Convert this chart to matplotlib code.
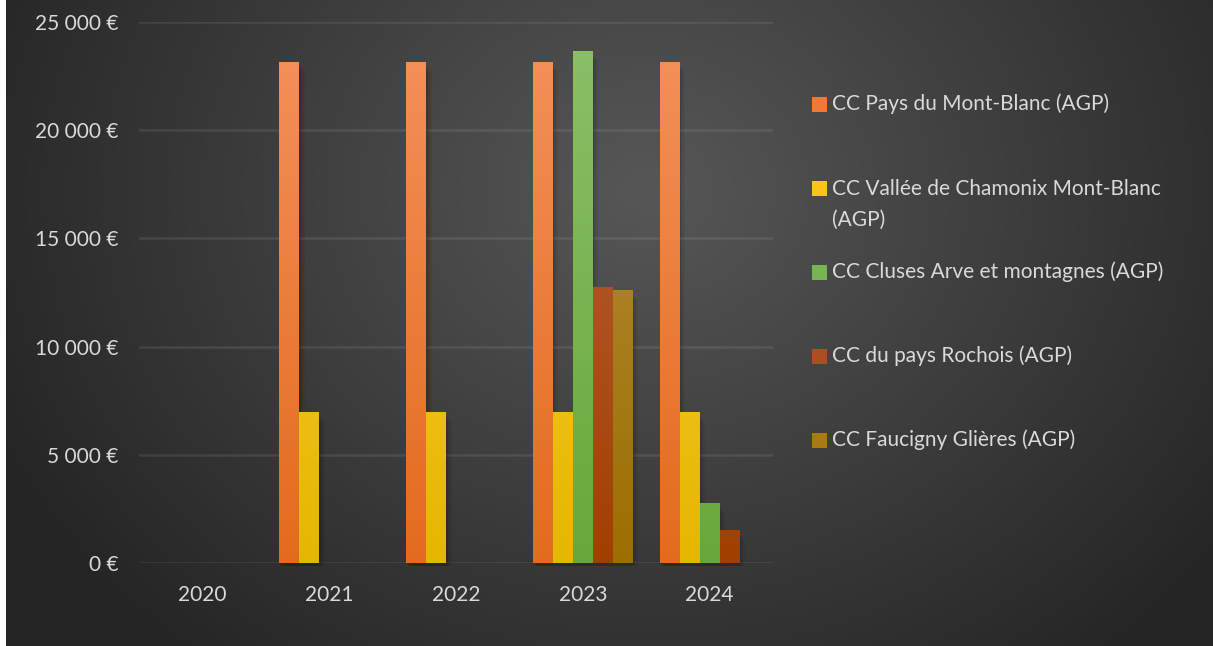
import numpy as np
import matplotlib
matplotlib.use("Agg")
import matplotlib.pyplot as plt
from matplotlib.patches import Rectangle
from matplotlib.colors import LinearSegmentedColormap

years = ["2020", "2021", "2022", "2023", "2024"]
series = [
    "CC Pays du Mont-Blanc (AGP)",
    "CC Vallée de Chamonix Mont-Blanc\n(AGP)",
    "CC Cluses Arve et montagnes (AGP)",
    "CC du pays Rochois (AGP)",
    "CC Faucigny Glières (AGP)",
]
pays_mont_blanc = [0, 23150, 23150, 23150, 23150]
chamonix = [0, 6980, 6980, 6980, 6980]
cluses = [0, 0, 0, 23650, 2770]
rochois = [0, 0, 0, 12750, 1520]
faucigny = [0, 0, 0, 12620, 0]
values = [pays_mont_blanc, chamonix, cluses, rochois, faucigny]
yticks = [0, 5000, 10000, 15000, 20000, 25000]
ytick_labels = ["0 €", "5 000 €", "10 000 €", "15 000 €", "20 000 €", "25 000 €"]

# (top colour, bottom colour) per series
grads = [
    ("#f4925c", "#e36b1d"),
    ("#ffd23f", "#e4b700"),
    ("#8cc06a", "#68a83a"),
    ("#bd6444", "#a04000"),
    ("#bc9047", "#9b6f00"),
]
legend_cols = ["#ee7a35", "#fcc419", "#77b550", "#ad4e20", "#a87b12"]

W, H = 1213, 646
FS = 15
fig = plt.figure(figsize=(W / 100, H / 100), dpi=100)
fig.patch.set_facecolor("white")

# background radial gradient
bg = fig.add_axes([6 / W, 0, (W - 6) / W, 1])
bg.set_axis_off()
yy, xx = np.mgrid[0:H, 0:W - 6]
cx, cy = 640, 190
d = np.sqrt(((xx - cx) / 1.0) ** 2 + ((yy - cy) / 0.85) ** 2)
t = np.clip(d / 720, 0, 1)
c0 = np.array([0x57, 0x57, 0x57]) / 255
c1 = np.array([0x25, 0x25, 0x25]) / 255
img = c0[None, None, :] * (1 - t[..., None]) + c1[None, None, :] * t[..., None]
bg.imshow(img, aspect="auto", extent=[0, 1, 0, 1], origin="upper")
bg.set_xlim(0, 1)
bg.set_ylim(0, 1)

left, right, top, bottom = 139, 773, 22, 563
ax = fig.add_axes([left / W, (H - bottom) / H, (right - left) / W, (bottom - top) / H])
ax.set_facecolor("none")
ax.set_xlim(-0.5, len(years) - 0.5)
ax.set_ylim(0, 25000)
for s in ax.spines.values():
    s.set_visible(False)
ax.set_yticks(yticks)
ax.set_yticklabels(ytick_labels)
ax.set_xticks(range(len(years)))
ax.set_xticklabels(years)
ax.tick_params(length=0, colors="#d9d9d9", labelsize=FS)
ax.tick_params(axis="y", pad=15)
ax.tick_params(axis="x", pad=16)
for lab in ax.get_xticklabels() + ax.get_yticklabels():
    lab.set_fontfamily("Lato")
ax.grid(axis="y", color="white", alpha=0.09, linewidth=1.8)
ax.set_axisbelow(True)

bw = 20 / 126.8
n = len(series)
x = np.arange(len(years))
for i, (vals, (ct, cb)) in enumerate(zip(values, grads)):
    xs = x - n * bw / 2 + i * bw + bw / 2
    bars = ax.bar(xs, vals, width=bw, color="none", linewidth=0, zorder=3)
    cmap = LinearSegmentedColormap.from_list(f"g{i}", [cb, ct])
    grad = np.linspace(0, 1, 256).reshape(-1, 1)
    for b in bars:
        h = b.get_height()
        if h <= 0:
            continue
        x0 = b.get_x()
        # soft shadow
        for k, a in enumerate([0.10, 0.07, 0.05]):
            off = bw * (0.08 + 0.1 * k)
            sh = Rectangle((x0 + off, -150), bw, h - 100 - 80 * k, facecolor="black",
                           alpha=a, linewidth=0, zorder=2, clip_on=False)
            ax.add_patch(sh)
        im = ax.imshow(grad, cmap=cmap, aspect="auto", origin="lower",
                       extent=[x0, x0 + bw, 0, 25000], zorder=3,
                       interpolation="bilinear")
        im.set_clip_path(b)
ax.set_xlim(-0.5, len(years) - 0.5)
ax.set_ylim(0, 25000)

# legend (manual, evenly spaced like Excel)
leg_y = [104, 188, 272, 356, 440]
for lab, col, yc in zip(series, legend_cols, leg_y):
    fig.patches.append(Rectangle((812 / W, (H - yc - 8) / H), 15 / W, 15 / H,
                                 transform=fig.transFigure, facecolor=col,
                                 linewidth=0))
    if "\n" in lab:
        fig.text(832 / W, (H - yc + 9) / H, lab, color="#d9d9d9", fontsize=FS,
                 family="Lato", va="top", linespacing=1.68)
    else:
        fig.text(832 / W, (H - yc) / H, lab, color="#d9d9d9", fontsize=FS,
                 family="Lato", va="center")

fig.savefig("out.png", dpi=100)
